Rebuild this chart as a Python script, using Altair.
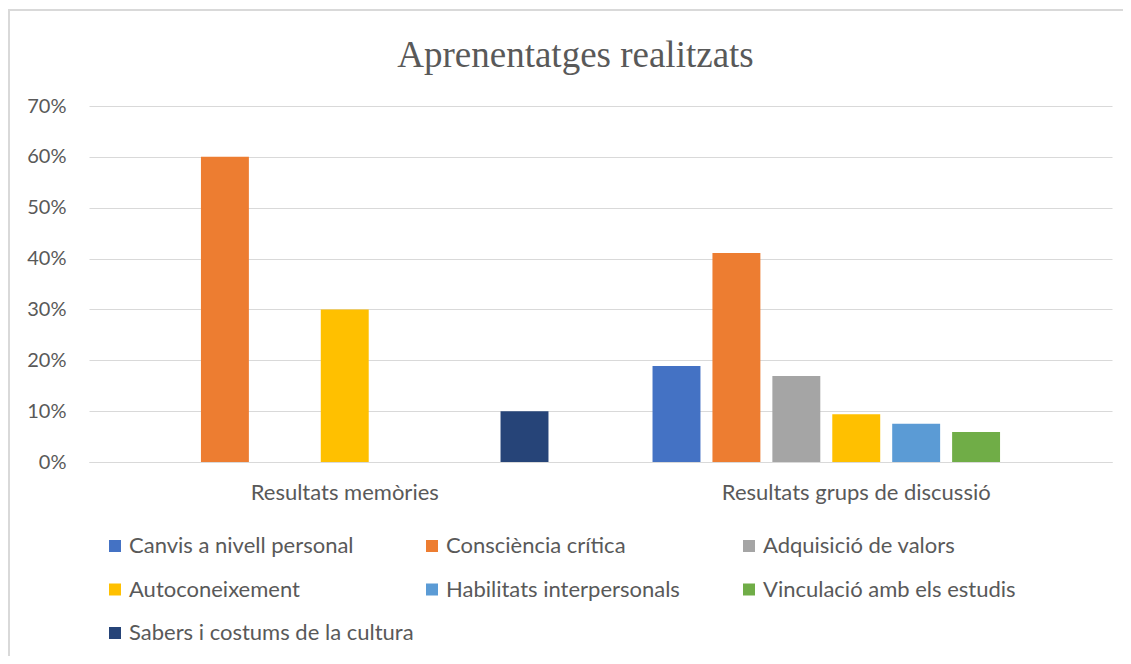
import altair as alt
import pandas as pd

categories = ["Resultats memòries", "Resultats grups de discussió"]
series = [
    "Canvis a nivell personal",
    "Consciència crítica",
    "Adquisició de valors",
    "Autoconeixement",
    "Habilitats interpersonals",
    "Vinculació amb els estudis",
    "Sabers i costums de la cultura",
]
memories = [0.0, 0.60, 0.0, 0.30, 0.0, 0.0, 0.10]
grups = [0.189, 0.411, 0.169, 0.094, 0.075, 0.059, 0.0]
colors = ["#4472C4", "#ED7D31", "#A5A5A5", "#FFC000", "#5B9BD5", "#70AD47", "#264478"]

rows = []
for cat, vals in zip(categories, [memories, grups]):
    for s, v in zip(series, vals):
        rows.append({"cat": cat, "serie": s, "valor": v})
df = pd.DataFrame(rows)

W, H = 1023, 356
font = "Lato"
gray = "#595959"

bars = alt.Chart(df).mark_bar().encode(
    x=alt.X("cat:N", sort=categories,
            scale=alt.Scale(paddingInner=0.18, paddingOuter=0.09),
            axis=alt.Axis(title=None, labelAngle=0, ticks=False, domain=True,
                          domainColor="#D9D9D9", labelFontSize=22, labelFont=font,
                          labelColor=gray, labelPadding=20, labelLimit=600, grid=False)),
    xOffset=alt.XOffset("serie:N", sort=series,
                        scale=alt.Scale(paddingInner=0.2, paddingOuter=0.1)),
    y=alt.Y("valor:Q", scale=alt.Scale(domain=[0, 0.7], nice=False),
            axis=alt.Axis(title=None, format=".0%", values=[0, 0.1, 0.2, 0.3, 0.4, 0.5, 0.6, 0.7],
                          domain=False, ticks=False, gridColor="#D9D9D9", gridWidth=1,
                          labelFontSize=20, labelFont=font, labelColor=gray, labelPadding=23)),
    color=alt.Color("serie:N", sort=series,
                    scale=alt.Scale(domain=series, range=colors),
                    legend=alt.Legend(title=None, orient="none", legendX=15, legendY=429,
                                      direction="horizontal", columns=3, gridAlign="all",
                                      columnPadding=7, rowPadding=21.5, symbolType="square",
                                      symbolSize=144, symbolStrokeWidth=0, labelOffset=3,
                                      labelFontSize=22, labelFont=font, labelColor=gray,
                                      labelLimit=400, padding=0)),
)

border_top = alt.Chart(df).mark_rule(color="#D9D9D9", strokeWidth=1.5).encode(
    x=alt.value(-81), x2=alt.value(1050), y=alt.value(-96)
)
border_left = alt.Chart(df).mark_rule(color="#D9D9D9", strokeWidth=1.5).encode(
    x=alt.value(-80), y=alt.value(-96), y2=alt.value(570)
)

chart = alt.layer(bars, border_top, border_left).properties(
    width=W, height=H,
    title=alt.TitleParams("Aprenentatges realitzats", font="Liberation Serif", fontSize=37,
                          fontWeight="normal", color=gray, anchor="middle", dx=-25,
                          baseline="alphabetic", offset=-95),
    autosize=alt.AutoSizeParams(type="none"),
    padding={"left": 81, "top": 98, "right": 11, "bottom": 194},
).configure_view(stroke=None)

chart.save("out.html", embed_options={"renderer": "svg", "actions": False})
